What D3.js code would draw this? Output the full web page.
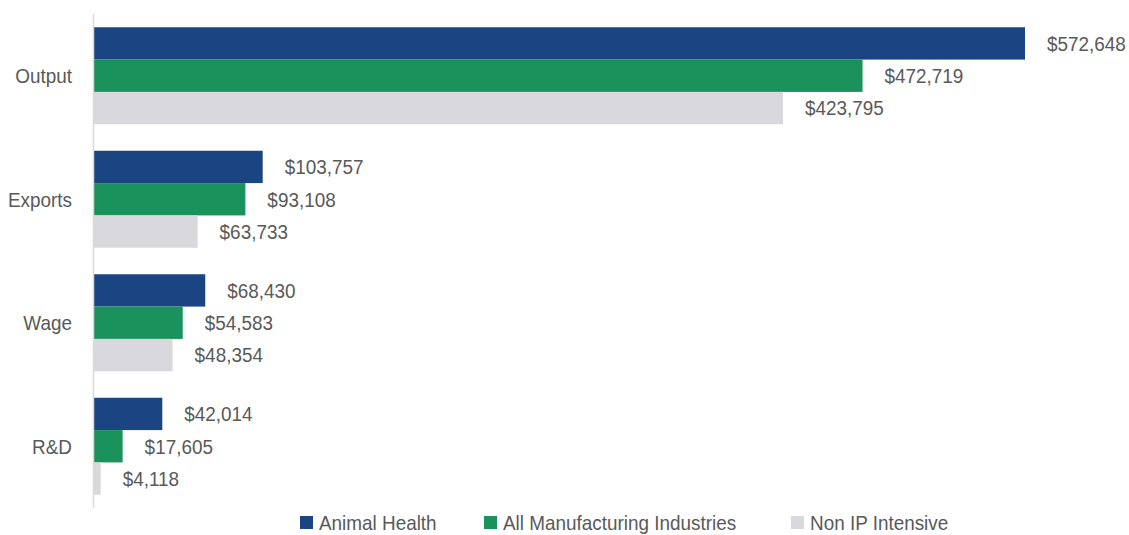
<!DOCTYPE html>
<html>
<head>
<meta charset="utf-8">
<script src="https://cdn.jsdelivr.net/npm/d3@7"></script>
<style>
  html, body { margin: 0; padding: 0; background: #fff; }
  svg text { font-family: "Liberation Sans", Arial, sans-serif; fill: #595959; font-size: 21px; }
</style>
</head>
<body>
<svg id="chart" width="1129" height="535"></svg>
<script>
// Data
const categories = ['Output', 'Exports', 'Wage', 'R&D'];
const seriesNames = ['Animal Health', 'All Manufacturing Industries', 'Non IP Intensive'];
const animalHealth = [572648, 103757, 68430, 42014];
const allManufacturing = [472719, 93108, 54583, 17605];
const nonIPIntensive = [423795, 63733, 48354, 4118];
const seriesColors = ['#1b4482', '#1b915c', '#d9d8dc'];

const seriesValues = [animalHealth, allManufacturing, nonIPIntensive];
const rows = categories.map((c, i) => ({
  category: c,
  values: seriesNames.map((s, j) => ({ series: s, value: seriesValues[j][i], color: seriesColors[j] }))
}));

const svg = d3.select('#chart');
const narrow = 0.9; // condensed look of the original font

// Scales
const xScale = d3.scaleLinear()
  .domain([0, 572648])
  .range([94, 1025]);

const yScale = d3.scaleBand()
  .domain(categories)
  .range([14, 508])
  .paddingInner(0.2146)
  .paddingOuter(0.1073);

const ySub = d3.scaleBand()
  .domain(seriesNames)
  .range([0, yScale.bandwidth()]);

const fmt = d3.format('$,');

// Category labels
svg.selectAll('.cat')
  .data(categories)
  .enter().append('text')
  .attr('class', 'cat')
  .attr('transform', d => `translate(72,${yScale(d) + yScale.bandwidth() / 2}) scale(${narrow},1)`)
  .attr('dy', '0.35em')
  .attr('text-anchor', 'end')
  .text(d => d);

// Bars
const groups = svg.selectAll('.grp')
  .data(rows)
  .enter().append('g')
  .attr('class', 'grp')
  .attr('transform', d => `translate(0,${yScale(d.category)})`);

groups.selectAll('rect')
  .data(d => d.values)
  .enter().append('rect')
  .attr('x', xScale(0))
  .attr('y', d => ySub(d.series))
  .attr('width', d => xScale(d.value) - xScale(0))
  .attr('height', ySub.bandwidth())
  .attr('fill', d => d.color);

groups.selectAll('.val')
  .data(d => d.values)
  .enter().append('text')
  .attr('class', 'val')
  .attr('transform', d => `translate(${xScale(d.value) + 22},${ySub(d.series) + ySub.bandwidth() / 2}) scale(${narrow},1)`)
  .attr('dy', '0.35em')
  .text(d => fmt(d.value));

// Axis line
svg.append('line')
  .attr('x1', 93.5).attr('x2', 93.5)
  .attr('y1', 14).attr('y2', 508)
  .attr('stroke', '#d9d9d9')
  .attr('stroke-width', 1.5);

// Legend
const legendX = [300, 484, 791];
const legend = svg.selectAll('.leg')
  .data(seriesNames)
  .enter().append('g')
  .attr('class', 'leg')
  .attr('transform', (d, i) => `translate(${legendX[i]},516)`);

legend.append('rect')
  .attr('width', 13).attr('height', 13)
  .attr('fill', (d, i) => seriesColors[i]);

legend.append('text')
  .attr('transform', `translate(19,7) scale(${narrow},1)`)
  .attr('dy', '0.35em')
  .text(d => d);
</script>
</body>
</html>
